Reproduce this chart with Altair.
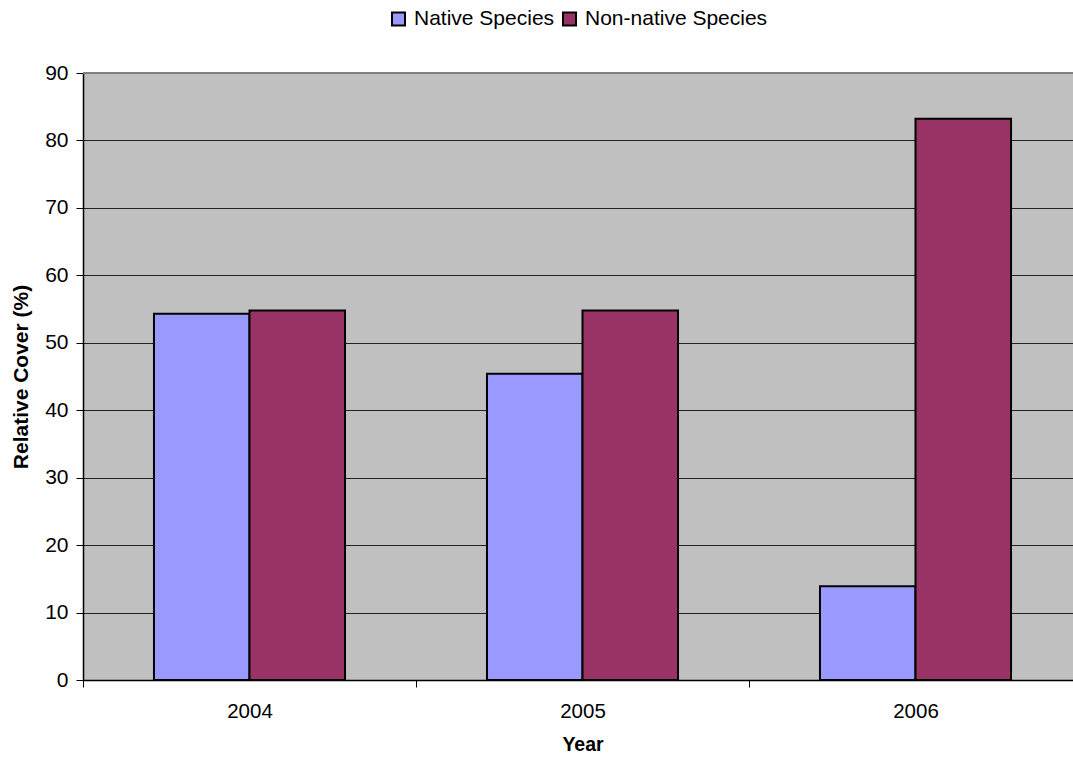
import altair as alt
import pandas as pd

years = ["2004", "2005", "2006"]
native = [54.3, 45.4, 13.9]
non_native = [54.8, 54.8, 83.2]
series = ["Native Species", "Non-native Species"]
colors = ["#9999FF", "#993366"]

rows = []
for i, y in enumerate(years):
    rows.append({"Year": y, "Species": series[0], "Cover": native[i]})
    rows.append({"Year": y, "Species": series[1], "Cover": non_native[i]})
df = pd.DataFrame(rows)

FONT = "Liberation Sans"

bars = alt.Chart(df).mark_bar(stroke="black", strokeWidth=2, opacity=1).encode(
    x=alt.X("Year:N", sort=years,
            scale=alt.Scale(range=[0, 999], paddingInner=0, paddingOuter=0),
            axis=alt.Axis(title="Year", labelAngle=0, tickBand="extent", tickSize=7,
                          tickColor="black", domainColor="black", domainWidth=1.5,
                          labelFontSize=20.5, labelPadding=14, labelColor="black",
                          titleFontSize=19.5, titleFontWeight="bold", titlePadding=14,
                          titleColor="black", labelFont=FONT, titleFont=FONT, grid=False)),
    xOffset=alt.XOffset("Species:N", sort=series,
                        scale=alt.Scale(paddingInner=0, paddingOuter=0.743)),
    y=alt.Y("Cover:Q", scale=alt.Scale(domain=[0, 90], nice=False),
            axis=alt.Axis(title="Relative Cover (%)", values=list(range(0, 91, 10)),
                          tickSize=7, tickColor="black", domainColor="black", domainWidth=1.5,
                          gridColor="#222222", gridWidth=1,
                          labelFontSize=21, labelPadding=8, labelColor="black",
                          titleFontSize=21, titleFontWeight="bold", titlePadding=13,
                          titleColor="black", labelFont=FONT, titleFont=FONT)),
    color=alt.Color("Species:N", sort=series,
                    scale=alt.Scale(domain=series, range=colors),
                    legend=alt.Legend(title=None, orient="none", direction="horizontal",
                                      legendX=305, legendY=-65, padding=0,
                                      symbolType="square", symbolSize=170,
                                      symbolStrokeColor="black", symbolStrokeWidth=2,
                                      symbolOpacity=1, labelLimit=400,
                                      labelFontSize=21, labelFont=FONT, labelColor="black",
                                      labelOffset=5, columnPadding=3)),
)

top_df = pd.DataFrame({"v": [90]})
top_line = alt.Chart(top_df).mark_rule(color="#808080", strokeWidth=2).encode(
    y=alt.Y("v:Q", scale=alt.Scale(domain=[0, 90], nice=False)),
)

chart = alt.layer(bars, top_line).properties(
    width=990, height=607,
    autosize=alt.AutoSizeParams(type="none"),
    padding={"left": 83, "top": 73, "right": 0, "bottom": 81},
    background="white",
).configure_view(fill="#C0C0C0", stroke=None)

chart.save("out.html", embed_options={"renderer": "svg", "actions": False})
